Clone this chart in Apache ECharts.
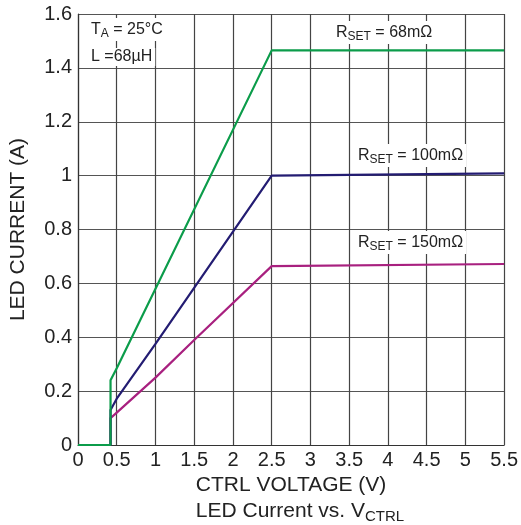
<!DOCTYPE html>
<html><head><meta charset="utf-8">
<script src="https://cdn.jsdelivr.net/npm/echarts@6/dist/echarts.min.js"></script>
<style>html,body{margin:0;padding:0;background:#fff}#c{width:521px;height:525px}</style>
</head><body><div id="c"></div>
<script>
// Data
const rset68 = [[0,0],[0.42,0],[0.42,0.24],[0.5,0.285],[2.5,1.465],[5.5,1.465]];
const rset100 = [[0,0],[0.42,0],[0.42,0.13],[0.5,0.172],[1,0.375],[2.5,1.0],[5.5,1.008]];
const rset150 = [[0,0],[0.42,0],[0.42,0.10],[0.5,0.12],[1,0.25],[1.5,0.39],[2.5,0.664],[5.5,0.672]];
const seriesNames = ['R_SET = 150mΩ','R_SET = 100mΩ','R_SET = 68mΩ'];
const xAxisName = 'CTRL VOLTAGE (V)';
const yAxisName = 'LED CURRENT (A)';

const FONT = 'Liberation Sans, Arial, sans-serif';
const chart = echarts.init(document.getElementById('c'), null, {renderer:'canvas'});
const sub = {fontSize: 12, fontFamily: FONT, color:'#222', padding:[9,0,0,0]};
const base = {fontSize: 16, fontFamily: FONT, fill:'#222', backgroundColor:'#fff', padding:[1,3,1,3], rich:{s:sub}};
function lbl(left, top, text){
  return {type:'text', left, top, z:100, style: Object.assign({text}, base)};
}
chart.setOption({
  animation:false,
  grid:{left:77, right:13, top:14, bottom:80},
  title:{text:'LED Current vs. V{s|CTRL}', left:295, textAlign:'center', top:494,
    textStyle:{fontSize:21, fontWeight:'normal', color:'#222', fontFamily:FONT,
      rich:{s:{fontSize:15, color:'#222', fontFamily:FONT, padding:[10,0,0,0]}}}},
  xAxis:{type:'value', min:0, max:5.5, interval:0.5,
    name:xAxisName, nameLocation:'middle', nameGap:28,
    nameTextStyle:{fontSize:21, color:'#222', fontFamily:FONT},
    axisLine:{show:true, lineStyle:{color:'#333', width:1.2}},
    axisTick:{show:false},
    axisLabel:{fontSize:20, color:'#222', fontFamily:FONT, margin:5,
      formatter: v => String(Math.round(v*10)/10)},
    splitLine:{show:true, showMinLine:true, showMaxLine:true, lineStyle:{color:'#444', width:1.2}}},
  yAxis:{type:'value', min:0, max:1.6, interval:0.2,
    name:yAxisName, nameLocation:'middle', nameGap:49, nameRotate:90,
    nameTextStyle:{fontSize:21, color:'#222', fontFamily:FONT},
    axisLine:{show:true, lineStyle:{color:'#333', width:1.2}},
    axisTick:{show:false},
    axisLabel:{fontSize:20, color:'#222', fontFamily:FONT, margin:6,
      formatter: v => String(Math.round(v*10)/10)},
    splitLine:{show:true, showMinLine:true, showMaxLine:true, lineStyle:{color:'#555', width:1.2}}},
  series:[
    {name:seriesNames[0], type:'line', data:rset150, symbol:'none', lineStyle:{color:'#a8207f', width:2.2}, itemStyle:{color:'#a8207f'}},
    {name:seriesNames[1], type:'line', data:rset100, symbol:'none', lineStyle:{color:'#231c72', width:2.2}, itemStyle:{color:'#231c72'}},
    {name:seriesNames[2], type:'line', data:rset68, symbol:'none', lineStyle:{color:'#0b9c4a', width:2.2}, itemStyle:{color:'#0b9c4a'}}
  ],
  graphic:[
    lbl(88, 18, 'T{s|A} = 25°C'),
    lbl(88, 48, 'L =68µH'),
    lbl(333, 21, 'R{s|SET} = 68mΩ'),
    lbl(355, 144, 'R{s|SET} = 100mΩ'),
    lbl(355, 231, 'R{s|SET} = 150mΩ')
  ]
});
</script></body></html>
